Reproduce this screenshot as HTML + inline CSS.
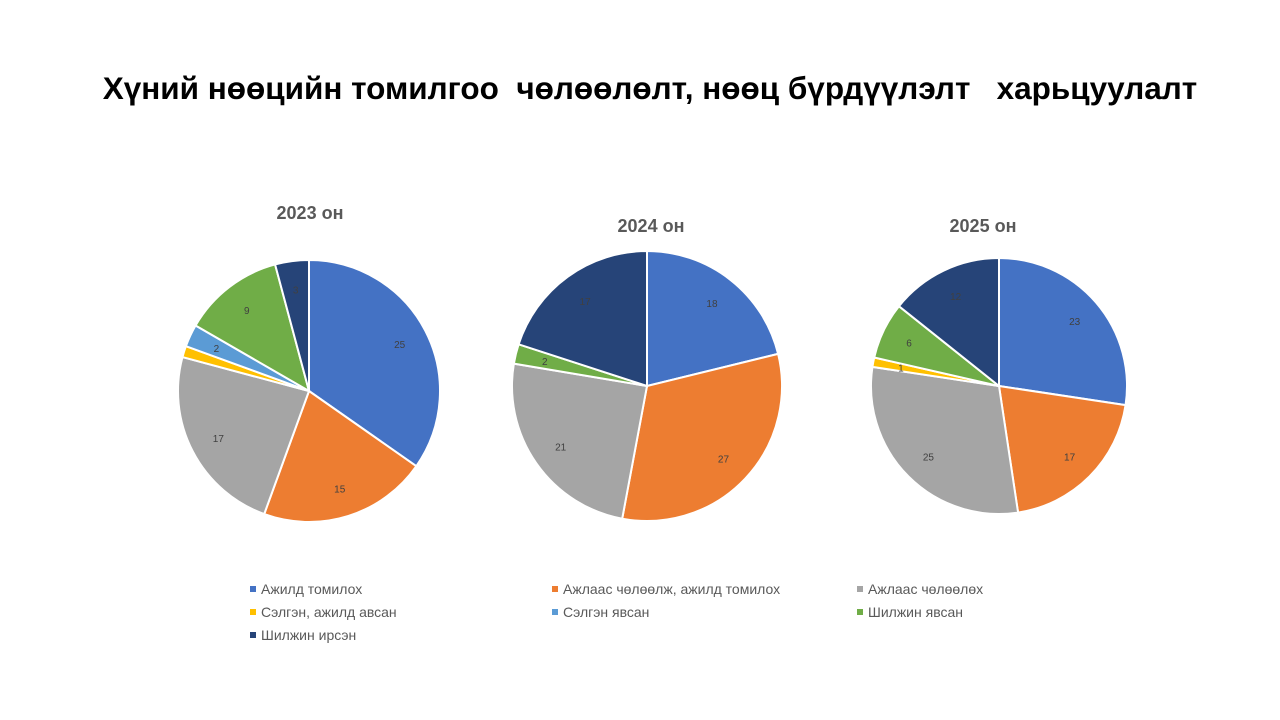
<!DOCTYPE html>
<html><head><meta charset="utf-8"><style>
body{margin:0;width:1280px;height:720px;background:#fff;overflow:hidden;font-family:"Liberation Sans",sans-serif;position:relative}
.t{position:absolute;left:0;width:1300px;top:70px;text-align:center;font-size:31.5px;font-weight:bold;color:#000;white-space:pre}
.h{position:absolute;font-size:18px;font-weight:bold;color:#595959;width:200px;text-align:center}
.lg{position:absolute;font-size:14px;color:#595959}
.lg i{display:inline-block;width:6px;height:6px;margin-right:5px;vertical-align:2px}
</style></head><body>
<div class="t">Хүний нөөцийн томилгоо  чөлөөлөлт, нөөц бүрдүүлэлт   харьцуулалт</div>
<div class="h" style="left:210px;top:203px">2023 он</div>
<div class="h" style="left:551px;top:216px">2024 он</div>
<div class="h" style="left:883px;top:216px">2025 он</div>
<svg id="s" width="1280" height="720" style="position:absolute;left:0;top:0"></svg>
<div class="lg" style="left:250px;top:581px"><i style="background:#4472c4"></i>Ажилд томилох</div>
<div class="lg" style="left:552px;top:581px"><i style="background:#ed7d31"></i>Ажлаас чөлөөлж, ажилд томилох</div>
<div class="lg" style="left:857px;top:581px"><i style="background:#a5a5a5"></i>Ажлаас чөлөөлөх</div>
<div class="lg" style="left:250px;top:604px"><i style="background:#ffc000"></i>Сэлгэн, ажилд авсан</div>
<div class="lg" style="left:552px;top:604px"><i style="background:#5b9bd5"></i>Сэлгэн явсан</div>
<div class="lg" style="left:857px;top:604px"><i style="background:#70ad47"></i>Шилжин явсан</div>
<div class="lg" style="left:250px;top:627px"><i style="background:#264478"></i>Шилжин ирсэн</div>
<script>
var C=["#4472c4","#ed7d31","#a5a5a5","#ffc000","#5b9bd5","#70ad47","#264478"];
var P=[[309,391,131,[25,15,17,1,2,9,3],[1,1,1,0,1,1,1]],[647,386,135,[18,27,21,0,0,2,17],[1,1,1,0,0,1,1]],[999,386,128,[23,17,25,1,0,6,12],[1,1,1,1,0,1,1]]];
var h="";
P.forEach(function(p){var cx=p[0],cy=p[1],r=p[2],v=p[3],T=v.reduce(function(a,b){return a+b}),a=0;
v.forEach(function(x,i){if(!x)return;var b=a+x/T*2*Math.PI;
var x1=cx+r*Math.sin(a),y1=cy-r*Math.cos(a),x2=cx+r*Math.sin(b),y2=cy-r*Math.cos(b);
h+='<path d="M'+cx+','+cy+'L'+x1+','+y1+'A'+r+','+r+' 0 '+((b-a)>Math.PI?1:0)+' 1 '+x2+','+y2+'Z" fill="'+C[i]+'" stroke="#fff" stroke-width="2"/>';
if(p[4][i]){var m=(a+b)/2,lr=r*0.78;h+='<text x="'+(cx+lr*Math.sin(m))+'" y="'+(cy-lr*Math.cos(m)+4)+'" font-size="10" fill="#404040" text-anchor="middle" font-family="Liberation Sans">'+x+'</text>';}
a=b;});});
document.getElementById("s").innerHTML=h;
</script>
</body></html>
